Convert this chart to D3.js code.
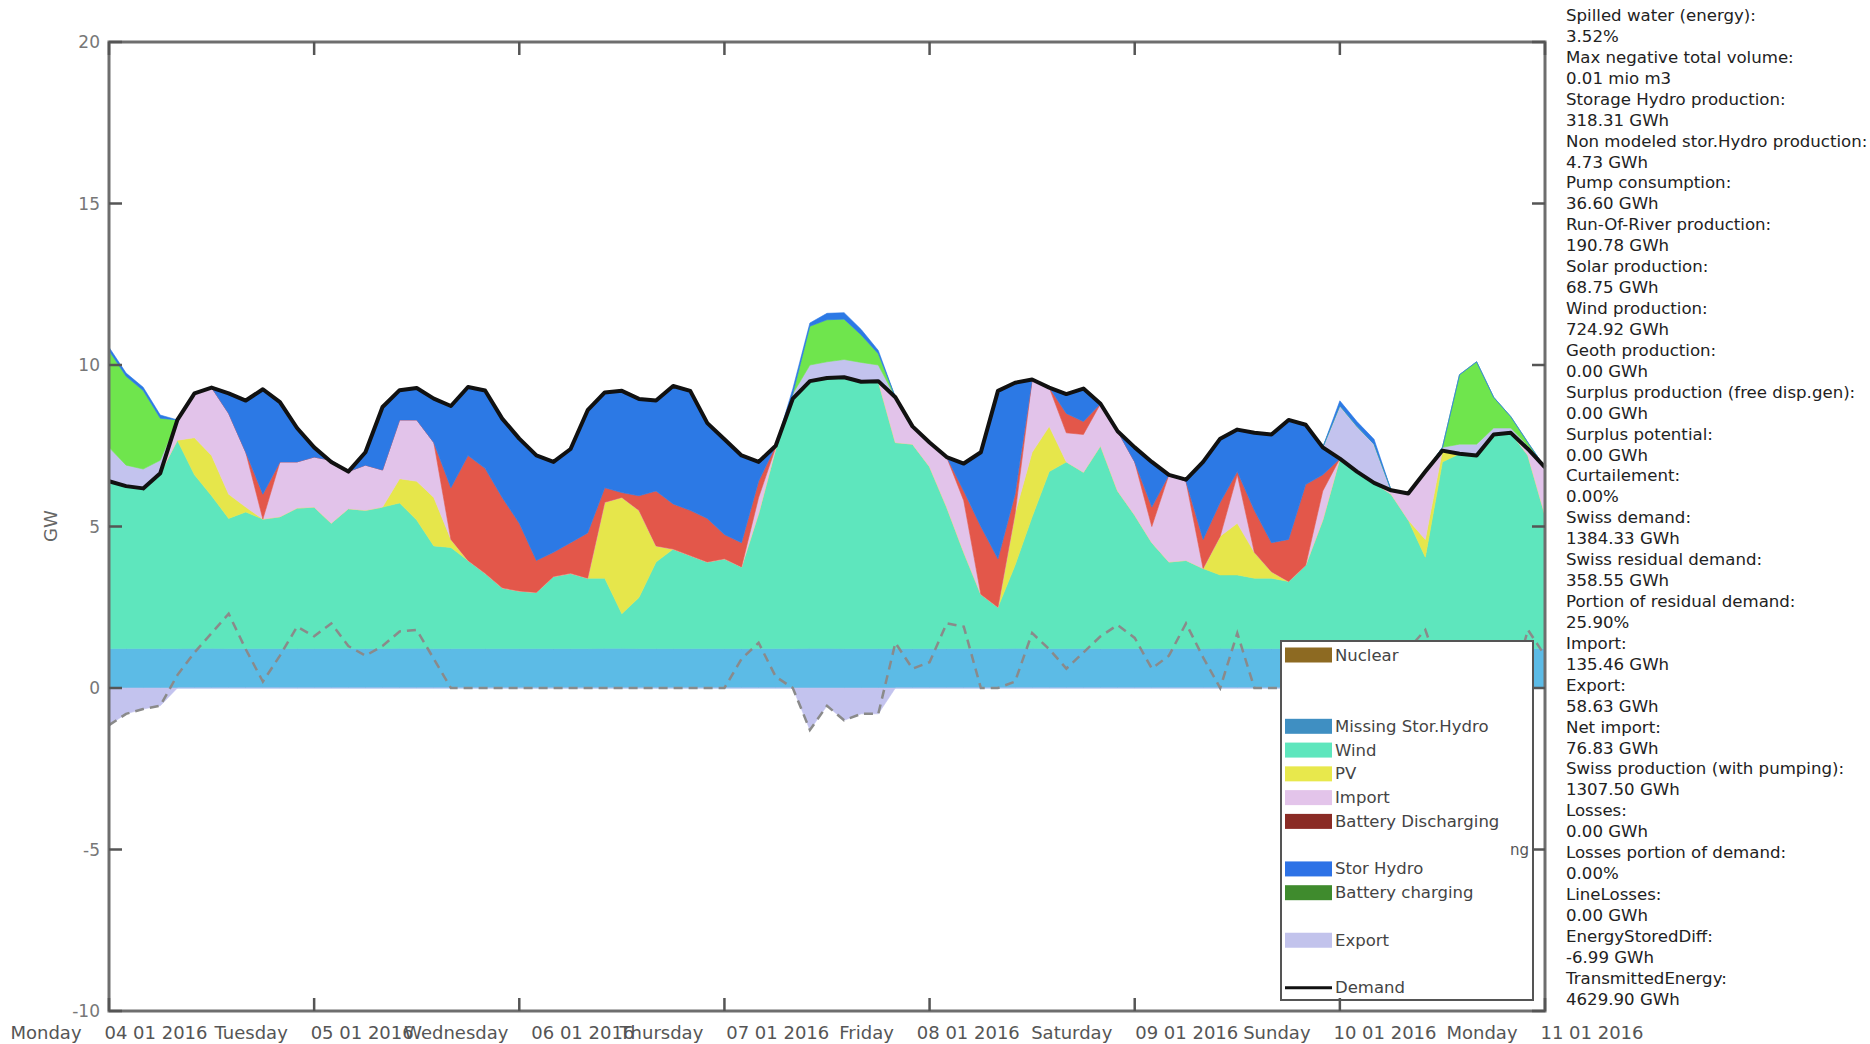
<!DOCTYPE html>
<html>
<head>
<meta charset="utf-8">
<script src="https://cdn.jsdelivr.net/npm/d3@7"></script>
<style>
body { margin: 0; background: #fff; }
text { font-family: "DejaVu Sans", sans-serif; }
</style>
</head>
<body>
<svg id="chart" width="1870" height="1044"></svg>
<script>
// values every 2 hours, Monday 04.01.2016 00:00 -> Monday 11.01.2016 00:00
var stepHours = 2;

var demand = [6.40,6.25,6.18,6.65,8.30,9.12,9.30,9.12,8.90,9.25,8.85,8.05,
	7.45,7.00,6.70,7.30,8.70,9.22,9.29,8.96,8.73,9.32,9.21,8.34,
	7.72,7.20,7.00,7.40,8.60,9.15,9.20,8.95,8.90,9.35,9.20,8.20,
	7.70,7.20,7.00,7.50,8.96,9.50,9.60,9.62,9.48,9.50,9.00,8.10,
	7.60,7.15,6.95,7.30,9.20,9.45,9.55,9.30,9.10,9.27,8.80,7.95,
	7.45,7.00,6.60,6.45,7.00,7.72,8.00,7.90,7.85,8.30,8.15,7.45,
	7.10,6.70,6.35,6.12,6.02,6.70,7.35,7.25,7.20,7.85,7.90,7.40,
	6.83];

// top of the run-of-river band
var rorTop = [1.22,1.22,1.22,1.22,1.22,1.23,1.23,1.22,1.22,1.22,1.22,1.22,
	1.22,1.22,1.22,1.22,1.22,1.23,1.23,1.22,1.22,1.22,1.22,1.22,
	1.22,1.22,1.22,1.22,1.22,1.23,1.23,1.22,1.22,1.22,1.22,1.22,
	1.22,1.22,1.22,1.22,1.22,1.23,1.23,1.22,1.22,1.22,1.22,1.22,
	1.22,1.22,1.22,1.22,1.22,1.23,1.23,1.22,1.22,1.22,1.22,1.22,
	1.22,1.22,1.22,1.22,1.22,1.23,1.23,1.22,1.22,1.22,1.22,1.22,
	1.22,1.22,1.22,1.22,1.22,1.23,1.23,1.22,1.22,1.22,1.22,1.22,
	1.22];

// upper edges of the stacked production layers (GW)
var windTop = [6.40,6.25,6.18,6.65,7.67,6.60,5.95,5.25,5.45,5.23,5.30,5.57,
	5.60,5.10,5.55,5.50,5.60,5.73,5.20,4.40,4.35,3.95,3.55,3.10,
	3.00,2.96,3.45,3.55,3.40,3.40,2.30,2.80,3.90,4.30,4.10,3.90,
	4.00,3.75,5.40,7.40,8.96,9.50,9.60,9.62,9.48,9.50,7.60,7.55,
	6.85,5.60,4.20,2.90,2.50,3.80,5.30,6.70,7.00,6.68,7.50,6.10,
	5.35,4.50,3.90,3.95,3.70,3.50,3.50,3.40,3.40,3.30,3.80,5.20,
	7.10,6.70,6.35,6.00,5.20,4.05,7.00,7.25,7.20,7.85,7.90,7.20,
	5.35];

var pvTop = [6.40,6.25,6.18,6.65,7.67,7.75,7.20,6.00,5.60,5.23,5.30,5.57,
	5.60,5.10,5.55,5.50,5.60,6.48,6.40,5.90,4.60,3.95,3.55,3.10,
	3.00,2.96,3.45,3.55,3.40,5.75,5.90,5.50,4.40,4.30,4.10,3.90,
	4.00,3.75,5.40,7.40,8.96,9.50,9.60,9.62,9.48,9.50,7.60,7.55,
	6.85,5.60,4.20,2.90,2.50,5.40,7.30,8.10,7.00,6.68,7.50,6.10,
	5.35,4.50,3.90,3.95,3.70,4.70,5.10,4.20,3.60,3.30,3.80,5.20,
	7.10,6.70,6.35,6.00,5.20,4.60,7.35,7.25,7.20,7.85,7.90,7.20,
	5.35];

var importTop = [6.40,6.25,6.18,6.65,8.30,9.12,9.30,8.50,7.30,5.23,7.00,7.00,
	7.15,7.05,6.70,6.90,6.75,8.30,8.30,7.60,4.60,3.95,3.55,3.10,
	3.00,2.96,3.45,3.55,3.40,5.75,5.90,5.50,4.40,4.30,4.10,3.90,
	4.00,3.75,5.90,7.45,8.96,9.50,9.60,9.62,9.48,9.50,9.00,8.10,
	7.60,7.15,5.80,2.90,2.50,5.40,9.55,9.30,7.90,7.85,8.80,7.95,
	7.00,5.00,6.60,6.40,3.70,4.70,6.60,4.20,3.60,3.30,3.80,6.10,
	7.10,6.70,6.35,6.12,6.02,6.70,7.35,7.25,7.20,7.85,7.90,7.40,
	6.83];

var batteryTop = [6.40,6.25,6.18,6.65,8.30,9.12,9.30,8.50,7.30,6.00,7.00,7.00,
	7.15,7.05,6.70,6.90,6.75,8.30,8.30,7.60,6.20,7.20,6.80,5.90,
	5.10,3.95,4.20,4.50,4.80,6.20,6.05,5.95,6.10,5.70,5.50,5.25,
	4.75,4.50,6.40,7.50,8.96,9.50,9.60,9.62,9.48,9.50,9.00,8.10,
	7.60,7.15,6.10,5.00,4.00,6.00,9.55,9.30,8.50,8.25,8.80,7.95,
	7.00,5.60,6.60,6.40,4.60,5.75,6.70,5.50,4.50,4.60,6.30,6.60,
	7.10,6.70,6.35,6.12,6.02,6.70,7.35,7.25,7.20,7.85,7.90,7.40,
	6.83];

// consumption drawn on top of the demand line when there is surplus
var surplusExport = [1.05,0.65,0.60,0.40,0,0,0,0,0,0,0,0,
	0,0,0,0,0,0,0,0,0,0,0,0,
	0,0,0,0,0,0,0,0,0,0,0,0,
	0,0,0,0,0.15,0.50,0.50,0.55,0.60,0.50,0,0,
	0,0,0,0,0,0,0,0,0,0,0,0,
	0,0,0,0,0,0,0,0,0,0,0,0,
	1.64,1.40,1.20,0,0,0,0.10,0.30,0.35,0.20,0.15,0.10,
	0];

var batteryCharging = [3.00,2.75,2.43,1.30,0,0,0,0,0,0,0,0,
	0,0,0,0,0,0,0,0,0,0,0,0,
	0,0,0,0,0,0,0,0,0,0,0,0,
	0,0,0,0,0,1.20,1.30,1.25,0.85,0.35,0,0,
	0,0,0,0,0,0,0,0,0,0,0,0,
	0,0,0,0,0,0,0,0,0,0,0,0,
	0,0,0,0,0,0,0,2.15,2.55,0.95,0.35,0.10,
	0];

var pumping = [0.10,0.10,0.10,0.10,0,0,0,0,0,0,0,0,
	0,0,0,0,0,0,0,0,0,0,0,0,
	0,0,0,0,0,0,0,0,0,0,0,0,
	0,0,0,0,0.15,0.10,0.20,0.20,0.17,0.10,0,0,
	0,0,0,0,0,0,0,0,0,0,0,0,
	0,0,0,0,0,0,0,0,0,0,0,0,
	0.15,0.15,0.15,0,0,0,0,0,0,0,0,0,
	0];

var exportNeg = [-1.15,-0.80,-0.65,-0.55,0,0,0,0,0,0,0,0,
	0,0,0,0,0,0,0,0,0,0,0,0,
	0,0,0,0,0,0,0,0,0,0,0,0,
	0,0,0,0,0,-1.30,-0.55,-1.00,-0.80,-0.80,0,0,
	0,0,0,0,0,0,0,0,0,0,0,0,
	0,0,0,0,0,0,0,0,0,0,0,0,
	-1.00,-1.00,-0.80,0,0,0,0,-0.30,-0.35,-0.20,-0.10,0,
	0];

// dashed grey line (net import)
var netImport = [-1.15,-0.80,-0.65,-0.55,0.40,1.10,1.70,2.30,1.20,0.20,1.00,1.90,
	1.60,2.00,1.30,1.00,1.30,1.75,1.80,0.90,0,0,0,0,
	0,0,0,0,0,0,0,0,0,0,0,0,
	0,0.90,1.40,0.35,0,-1.30,-0.55,-1.00,-0.80,-0.80,1.40,0.60,
	0.80,2.00,1.90,0,0,0.20,1.70,1.20,0.60,1.10,1.60,1.95,
	1.55,0.60,1.00,2.00,0.95,0,1.70,0,0,0,0,0,
	-1.00,-1.00,-0.80,0,1.20,1.80,0.30,-0.30,-0.35,-0.20,-0.10,1.80,
	1.00];

var dayTicks = [0, 24, 48, 72, 96, 120, 144, 168];
var dayNames = ['Monday', 'Tuesday', 'Wednesday', 'Thursday', 'Friday', 'Saturday', 'Sunday', 'Monday'];
var dayDates = ['04 01 2016', '05 01 2016', '06 01 2016', '07 01 2016', '08 01 2016', '09 01 2016', '10 01 2016', '11 01 2016'];
var gwTicks = [-10, -5, 0, 5, 10, 15, 20];

var legendNames = ['Nuclear', '', '', 'Missing Stor.Hydro', 'Wind', 'PV', 'Import', 'Battery Discharging', '',
	'Stor Hydro', 'Battery charging', '', 'Export', '', 'Demand'];
var legendColors = ['#8d6a22', null, null, '#3f8fc2', '#5ee6bd', '#e8e84c', '#e3c4ea', '#8a2b25', null,
	'#2d72e6', '#3f8b2d', null, '#c2c3ec', null, 'line'];

var statLines = [
	'Spilled water (energy):', '3.52%',
	'Max negative total volume:', '0.01 mio m3',
	'Storage Hydro production:', '318.31 GWh',
	'Non modeled stor.Hydro production:', '4.73 GWh',
	'Pump consumption:', '36.60 GWh',
	'Run-Of-River production:', '190.78 GWh',
	'Solar production:', '68.75 GWh',
	'Wind production:', '724.92 GWh',
	'Geoth production:', '0.00 GWh',
	'Surplus production (free disp.gen):', '0.00 GWh',
	'Surplus potential:', '0.00 GWh',
	'Curtailement:', '0.00%',
	'Swiss demand:', '1384.33 GWh',
	'Swiss residual demand:', '358.55 GWh',
	'Portion of residual demand:', '25.90%',
	'Import:', '135.46 GWh',
	'Export:', '58.63 GWh',
	'Net import:', '76.83 GWh',
	'Swiss production (with pumping):', '1307.50 GWh',
	'Losses:', '0.00 GWh',
	'Losses portion of demand:', '0.00%',
	'LineLosses:', '0.00 GWh',
	'EnergyStoredDiff:', '-6.99 GWh',
	'TransmittedEnergy:', '4629.90 GWh'
];

var plotLeft = 109, plotRight = 1545, plotTop = 42, plotBottom = 1011;

var svg = d3.select('#chart');

var x = d3.scaleLinear().domain([0, 168]).range([plotLeft, plotRight]);
var y = d3.scaleLinear().domain([-10, 20]).range([plotBottom, plotTop]);

function hourAt(i) { return i * stepHours; }

// area between two accessors
function band(lo, hi) {
	return d3.area()
		.x(function (d, i) { return x(hourAt(i)); })
		.y0(function (d, i) { return y(lo(i)); })
		.y1(function (d, i) { return y(hi(i)); });
}
function arr(a) { return function (i) { return a[i]; }; }
function zero() { return 0; }

var plot = svg.append('g');

var layers = [
	{ lo: zero, hi: arr(rorTop), color: '#5cbbe6' },
	{ lo: arr(rorTop), hi: arr(windTop), color: '#5ee6bd' },
	{ lo: arr(windTop), hi: arr(pvTop), color: '#e6e64b' },
	{ lo: arr(pvTop), hi: arr(importTop), color: '#e2c3ea' },
	{ lo: arr(importTop), hi: arr(batteryTop), color: '#e3574a' },
	{ lo: arr(batteryTop), hi: function (i) { return Math.max(batteryTop[i], demand[i]); }, color: '#2c79e5' },
	// surplus stacked on the demand
	{ lo: arr(demand), hi: function (i) { return demand[i] + surplusExport[i]; }, color: '#c3c3ee' },
	{ lo: function (i) { return demand[i] + surplusExport[i]; },
		hi: function (i) { return demand[i] + surplusExport[i] + batteryCharging[i]; }, color: '#6fe54d' },
	{ lo: function (i) { return demand[i] + surplusExport[i] + batteryCharging[i]; },
		hi: function (i) { return demand[i] + surplusExport[i] + batteryCharging[i] + pumping[i]; }, color: '#2c79e5' },
	// export below zero
	{ lo: zero, hi: arr(exportNeg), color: '#c3c3ee' }
];

layers.forEach(function (l) {
	plot.append('path')
		.datum(demand)
		.attr('d', band(l.lo, l.hi))
		.attr('fill', l.color)
		.attr('stroke', l.color)
		.attr('stroke-width', 0.6);
});

// net import, dashed
plot.append('path')
	.datum(netImport)
	.attr('d', d3.line()
		.x(function (d, i) { return x(hourAt(i)); })
		.y(function (d) { return y(d); }))
	.attr('fill', 'none')
	.attr('stroke', '#8a8a8a')
	.attr('stroke-width', 2.5)
	.attr('stroke-dasharray', '9,6');

// demand
plot.append('path')
	.datum(demand)
	.attr('d', d3.line()
		.x(function (d, i) { return x(hourAt(i)); })
		.y(function (d) { return y(d); }))
	.attr('fill', 'none')
	.attr('stroke', '#111')
	.attr('stroke-width', 4)
	.attr('stroke-linejoin', 'round');

// legend
var lg = svg.append('g');
lg.append('rect')
	.attr('x', 1281).attr('y', 641)
	.attr('width', 252).attr('height', 359)
	.attr('fill', '#fff')
	.attr('stroke', '#555')
	.attr('stroke-width', 2);

legendNames.forEach(function (name, k) {
	var cy = 655 + k * 23.77;
	var col = legendColors[k];
	if (col === 'line') {
		lg.append('line')
			.attr('x1', 1285).attr('x2', 1332)
			.attr('y1', cy).attr('y2', cy)
			.attr('stroke', '#111').attr('stroke-width', 3);
	} else if (col) {
		lg.append('rect')
			.attr('x', 1285).attr('y', cy - 7.5)
			.attr('width', 47).attr('height', 15)
			.attr('fill', col);
	}
	if (name) {
		lg.append('text')
			.attr('x', 1335).attr('y', cy + 5.5)
			.attr('font-size', 16.5)
			.attr('fill', '#444')
			.text(name);
	}
});
lg.append('text')
	.attr('x', 1529).attr('y', 855)
	.attr('text-anchor', 'end')
	.attr('font-size', 15)
	.attr('fill', '#555')
	.text('ng');

// axes box and ticks (inward, all four sides)
var ax = svg.append('g');
ax.append('rect')
	.attr('x', plotLeft).attr('y', plotTop)
	.attr('width', plotRight - plotLeft).attr('height', plotBottom - plotTop)
	.attr('fill', 'none')
	.attr('stroke', '#6e6e6e')
	.attr('stroke-width', 3);

dayTicks.forEach(function (h) {
	ax.append('line').attr('x1', x(h)).attr('x2', x(h)).attr('y1', plotBottom).attr('y2', plotBottom - 13)
		.attr('stroke', '#555').attr('stroke-width', 2.5);
	ax.append('line').attr('x1', x(h)).attr('x2', x(h)).attr('y1', plotTop).attr('y2', plotTop + 13)
		.attr('stroke', '#555').attr('stroke-width', 2.5);
});
gwTicks.forEach(function (v) {
	ax.append('line').attr('x1', plotLeft).attr('x2', plotLeft + 13).attr('y1', y(v)).attr('y2', y(v))
		.attr('stroke', '#555').attr('stroke-width', 2.5);
	ax.append('line').attr('x1', plotRight).attr('x2', plotRight - 13).attr('y1', y(v)).attr('y2', y(v))
		.attr('stroke', '#555').attr('stroke-width', 2.5);
	ax.append('text')
		.attr('x', plotLeft - 9).attr('y', y(v) + 6)
		.attr('text-anchor', 'end')
		.attr('font-size', 17)
		.attr('fill', '#777')
		.text(v);
});

dayTicks.forEach(function (h, k) {
	ax.append('text')
		.attr('x', x(h)).attr('y', 1039)
		.attr('text-anchor', 'middle')
		.attr('font-size', 18)
		.attr('fill', '#555')
		.style('white-space', 'pre')
		.text(dayNames[k] + '    ' + dayDates[k]);
});

ax.append('text')
	.attr('transform', 'translate(57,526) rotate(-90)')
	.attr('text-anchor', 'middle')
	.attr('font-size', 18)
	.attr('fill', '#666')
	.text('GW');

// statistics on the right
svg.append('g').selectAll('text')
	.data(statLines)
	.enter()
	.append('text')
	.attr('x', 1566)
	.attr('y', function (d, i) { return 21 + i * 20.93; })
	.attr('font-size', 16.6)
	.attr('fill', '#222')
	.text(function (d) { return d; });
</script>
</body>
</html>
